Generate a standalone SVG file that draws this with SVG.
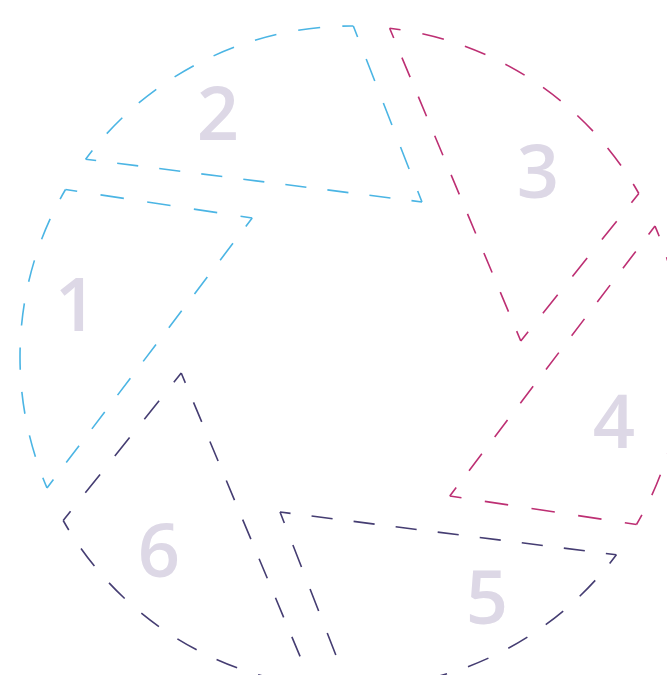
<svg xmlns="http://www.w3.org/2000/svg" width="667" height="675" viewBox="0 0 667 675">
<style>
.e{fill:none;stroke-width:1.6;stroke-dasharray:50 50;stroke-dashoffset:25}
.n{font-family:"Open Sans","Noto Sans","DejaVu Sans",sans-serif;font-size:74px;font-weight:600;fill:#ddd8e6;text-anchor:middle}
.b{stroke:#4bb5e4}
.m{stroke:#bd2f73}
.d{stroke:#453d72}
</style>
<defs>
<g id="blade">
<path class="e" pathLength="400" d="M252.2,218L65.5,189.5"/>
<path class="e" pathLength="700" d="M65.5,189.5A331,331 0 0 0 47,487.9"/>
<path class="e" pathLength="800" d="M47,487.9L252.2,218"/>
</g>
</defs>
<rect width="667" height="675" fill="#ffffff"/>
<g id="blade-1"><use href="#blade" class="b"/><text class="n" x="76" y="331">1</text></g>
<g id="blade-2"><use href="#blade" class="b" transform="rotate(60 351 357)"/><text class="n" x="218" y="140">2</text></g>
<g id="blade-3"><use href="#blade" class="m" transform="rotate(120 351 357)"/><text class="n" x="538" y="198">3</text></g>
<g id="blade-4"><use href="#blade" class="m" transform="rotate(180 351 357)"/><text class="n" x="614" y="448">4</text></g>
<g id="blade-5"><use href="#blade" class="d" transform="rotate(240 351 357)"/><text class="n" x="487" y="624">5</text></g>
<g id="blade-6"><use href="#blade" class="d" transform="rotate(300 351 357)"/><text class="n" x="159" y="577">6</text></g>
</svg>
